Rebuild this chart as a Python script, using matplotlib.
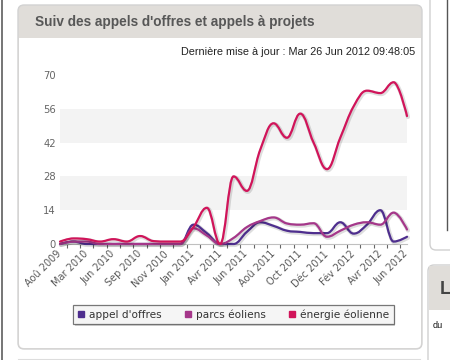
import matplotlib
matplotlib.use("Agg")
import matplotlib.pyplot as plt
from matplotlib.path import Path
from matplotlib.patches import PathPatch, FancyBboxPatch, Rectangle
from matplotlib.lines import Line2D
import matplotlib.patheffects as pe

# ---------------- data ----------------
title = "Suiv des appels d'offres et appels à projets"
updated = "Dernière mise à jour : Mar 26 Jun 2012 09:48:05"
x_labels = ["Aoû 2009", "Mar 2010", "Jun 2010", "Sep 2010", "Nov 2010", "Jan 2011",
            "Avr 2011", "Jun 2011", "Aoû 2011", "Oct 2011", "Déc 2011", "Fév 2012",
            "Avr 2012", "Jun 2012"]
series_names = ["appel d'offres", "parcs éoliens", "énergie éolienne"]
series_colors = ["#4E2E8E", "#A5378A", "#D1145A"]
appel_offres = [0, 1, 0, 0, 0, 0, 0, 0, 0, 0, 8, 4.5, 0, 0, 5, 9, 7.5, 5.5, 5, 4.5,
                4.5, 9, 4.3, 8, 14, 1, 3]
parcs_eoliens = [0, 1, 1, 0, 0, 0, 0, 0, 0, 0, 6.5, 3.5, 0, 2.5, 7, 9.5, 11, 8.5, 8, 8.6,
                 3, 5.5, 8, 9, 8, 13, 6]
energie_eolienne = [1, 2.3, 2, 1, 2, 1, 3.3, 1.2, 1, 1, 7, 15, 0, 28, 22, 39, 50, 44, 54,
                    42, 31, 44, 57, 63.5, 62.5, 67, 53]
y_ticks = [0, 14, 28, 42, 56, 70]
series_values = [appel_offres, parcs_eoliens, energie_eolienne]


def spline_path(xs, ys, smoothing=1.5):
    """Highcharts-style smoothed path (cubic Bezier) through the data points."""
    n = len(xs)
    denom = smoothing + 1

    def conts(i):
        x, y = xs[i], ys[i]
        if i == 0 or i == n - 1:
            return (x, y), (x, y)
        lx, ly = xs[i - 1], ys[i - 1]
        nx, ny = xs[i + 1], ys[i + 1]
        lcx = (smoothing * x + lx) / denom
        lcy = (smoothing * y + ly) / denom
        rcx = (smoothing * x + nx) / denom
        rcy = (smoothing * y + ny) / denom
        if rcx != lcx:
            corr = ((rcy - lcy) * (rcx - x)) / (rcx - lcx) + y - rcy
            lcy += corr
            rcy += corr
        if lcy > ly and lcy > y:
            lcy = max(ly, y); rcy = 2 * y - lcy
        elif lcy < ly and lcy < y:
            lcy = min(ly, y); rcy = 2 * y - lcy
        if rcy > ny and rcy > y:
            rcy = max(ny, y); lcy = 2 * y - rcy
        elif rcy < ny and rcy < y:
            rcy = min(ny, y); lcy = 2 * y - rcy
        return (lcx, lcy), (rcx, rcy)

    verts = [(xs[0], ys[0])]
    codes = [Path.MOVETO]
    for i in range(1, n):
        verts += [conts(i - 1)[1], conts(i)[0], (xs[i], ys[i])]
        codes += [Path.CURVE4] * 3
    return Path(verts, codes)


fig = plt.figure(figsize=(4.5, 3.6), dpi=100)
fig.patch.set_facecolor("white")

# ---------- page decoration (pixel coordinates) ----------
bg = fig.add_axes([0, 0, 1, 1], zorder=0)
bg.set_xlim(0, 450)
bg.set_ylim(360, 0)
bg.axis("off")

header_col = "#e0ddd9"
bg.add_patch(FancyBboxPatch((18, 5), 404, 344, boxstyle="round,pad=0,rounding_size=6",
                            facecolor=header_col, edgecolor="#d2d2d2", lw=1))
bg.add_patch(FancyBboxPatch((19, 38), 402, 310, boxstyle="round,pad=0,rounding_size=5",
                            facecolor="white", edgecolor="none"))
bg.add_patch(Rectangle((19, 38), 402, 10, facecolor="white", edgecolor="none"))
bg.text(35, 22, title, fontsize=9.8, fontweight="bold", color="#575757",
        family="Liberation Sans", va="center", ha="left")
bg.text(415, 52, updated, fontsize=7.8, color="#222222", family="Liberation Sans",
        va="center", ha="right")

# right side page elements
bg.add_patch(FancyBboxPatch((430, -20), 40, 270, boxstyle="round,pad=0,rounding_size=6",
                            facecolor="white", edgecolor="#d0d0d0", lw=1))
bg.plot([447, 447], [0, 230], color="#555555", lw=1)
bg.add_patch(FancyBboxPatch((428, 265), 40, 120, boxstyle="round,pad=0,rounding_size=6",
                            facecolor="white", edgecolor="#d0d0d0", lw=1))
bg.add_patch(Rectangle((428.5, 265.5), 25, 44, facecolor=header_col, edgecolor="none"))
bg.text(440, 289, "L", fontsize=13, fontweight="bold", color="#444444",
        family="Liberation Sans", va="center", ha="left")
bg.text(433, 326, "du", fontsize=6.5, color="#111111", family="Liberation Sans",
        va="center", ha="left")
bg.plot([1.5, 1.5], [0, 360], color="#6a6a6a", lw=1.3)
bg.plot([18, 420], [358.5, 358.5], color="#dddddd", lw=0.8)

# ---------- chart ----------
ax = fig.add_axes([60 / 450, (360 - 244) / 360, 347 / 450, 169 / 360], zorder=2)
ax.set_facecolor("none")
n = len(energie_eolienne)
xs = list(range(n))
ax.set_xlim(0, n - 1)
ax.set_ylim(0, 70)

ax.axhspan(14, 28, color="#f3f3f3", lw=0, zorder=0)
ax.axhspan(42, 56, color="#f3f3f3", lw=0, zorder=0)

for vals, col in zip(series_values, series_colors):
    patch = PathPatch(spline_path(xs, vals), facecolor="none", edgecolor=col, lw=1.6,
                      capstyle="round", joinstyle="round", zorder=3, clip_on=False)
    patch.set_path_effects([pe.SimpleLineShadow(offset=(0.7, -0.7), shadow_color="black",
                                                alpha=0.13, linewidth=3.0),
                            pe.Normal()])
    ax.add_patch(patch)

for s in ["top", "right", "left"]:
    ax.spines[s].set_visible(False)
ax.spines["bottom"].set_color("#c0c0c0")
ax.spines["bottom"].set_linewidth(0.8)

ax.set_yticks(y_ticks)
ax.set_yticklabels([str(v) for v in y_ticks])
ax.tick_params(axis="y", length=0, pad=3, labelsize=7.2, labelcolor="#666666")

ax.set_xticks(range(0, n, 2))
ax.set_xticklabels(x_labels, rotation=45, ha="right", va="center",
                   rotation_mode="anchor", fontsize=7.0, color="#5a5a5a")
ax.tick_params(axis="x", which="major", length=0, pad=6)
ax.set_xticks([i + 0.5 for i in range(n - 1)], minor=True)
ax.tick_params(axis="x", which="minor", length=3, width=0.8, color="#666666")

# the chart container cuts the first label on the left
clip_rect = Rectangle((25, 0), 400, 360, transform=bg.transData, visible=False)
bg.add_patch(clip_rect)
for lbl in ax.get_xticklabels():
    lbl.set_clip_path(clip_rect)

handles = [Line2D([], [], marker="s", linestyle="none", markersize=5,
                  markerfacecolor=c, markeredgecolor=c) for c in series_colors]
leg = fig.legend(handles, series_names, loc="center",
                 bbox_to_anchor=(233.5 / 450, 1 - 314.5 / 360), ncol=3, frameon=True,
                 fancybox=False, shadow=False, fontsize=7.6, handlelength=0.6,
                 handletextpad=0.45, columnspacing=2.2, borderpad=0.42,
                 labelcolor="#333333")
leg.get_frame().set_edgecolor("#555555")
leg.get_frame().set_linewidth(0.9)
leg.get_frame().set_path_effects([pe.SimplePatchShadow(offset=(1.2, -1.2), alpha=0.25),
                                  pe.Normal()])

fig.savefig("out.png", dpi=100, facecolor="white")
